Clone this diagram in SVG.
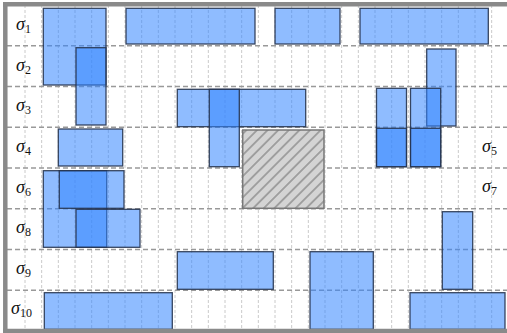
<svg xmlns="http://www.w3.org/2000/svg" width="507" height="333" viewBox="0 0 507 333">
<style>
.hl{stroke:#999;stroke-width:1.5;stroke-dasharray:5 3;fill:none}
.vl{stroke:#bdbdbd;stroke-width:0.8;stroke-dasharray:3 2;fill:none}
.fr{stroke:#8a8a8a;stroke-width:4.5;fill:none}
.b{fill:#3385ff;fill-opacity:0.55;stroke:#26344f;stroke-width:1.3;stroke-opacity:0.9}
.h{fill:url(#hatch);stroke:#777;stroke-width:1.5}
.lb{font-family:"Liberation Serif","DejaVu Serif",serif;font-style:italic;font-size:18px;fill:#111}
.sb{font-style:normal;font-size:12px}
</style>
<defs>
<pattern id="hatch" patternUnits="userSpaceOnUse" width="7.5" height="7.5" patternTransform="rotate(-45)">
<rect width="7.5" height="7.5" fill="#d4d4d4"/>
<line x1="0" y1="3.75" x2="7.5" y2="3.75" stroke="#777" stroke-width="1.1"/>
</pattern>
</defs>
<rect width="507" height="333" fill="#fff"/>
<g id="grid">
<path class="vl" d="M25 5V331M41.67 5V331M58.33 5V331M75 5V331M91.67 5V331M108.33 5V331M125 5V331M141.67 5V331M158.33 5V331M175 5V331M191.67 5V331M208.33 5V331M225 5V331M241.67 5V331M258.33 5V331M275 5V331M291.67 5V331M308.33 5V331M325 5V331M341.67 5V331M358.33 5V331M375 5V331M391.67 5V331M408.33 5V331M425 5V331M441.67 5V331M458.33 5V331M475 5V331M491.67 5V331"/>
<path class="hl" d="M7 45.75H507M7 86.5H507M7 127.25H507M7 168H507M7 208.75H507M7 249.5H507M7 290.25H507"/>
</g>
<g id="tasks">
<rect class="b" x="43.3" y="8.3" width="62.7" height="76.7"/>
<rect class="b" x="76" y="47.7" width="30" height="77.3"/>
<rect class="b" x="126" y="8.3" width="129" height="35.7"/>
<rect class="b" x="275" y="8.3" width="65" height="35.7"/>
<rect class="b" x="360" y="8.3" width="128.3" height="35.7"/>
<rect class="b" x="426.7" y="49" width="29.3" height="77"/>
<rect class="b" x="177.3" y="89.3" width="128.4" height="37.4"/>
<rect class="b" x="209.3" y="89.3" width="30" height="77.4"/>
<rect class="b" x="376.5" y="88.3" width="30" height="78.4"/>
<rect class="b" x="410.5" y="88.3" width="30.2" height="78.4"/>
<rect class="b" x="376.5" y="128.3" width="30" height="38.4"/>
<rect class="b" x="410.5" y="128.3" width="30.2" height="38.4"/>
<rect class="b" x="58.3" y="129" width="64.4" height="37"/>
<rect class="b" x="43.3" y="170.7" width="63.4" height="76.6"/>
<rect class="b" x="59.3" y="170.7" width="64.7" height="37.6"/>
<rect class="b" x="76" y="209.3" width="64" height="38"/>
<rect class="b" x="442.3" y="211.7" width="30.4" height="77.6"/>
<rect class="b" x="177.3" y="251.7" width="96" height="37.6"/>
<rect class="b" x="310" y="251.7" width="63.3" height="77.6"/>
<rect class="b" x="44.3" y="292.7" width="128" height="36.6"/>
<rect class="b" x="410" y="292.7" width="95" height="36.6"/>
</g>
<g id="blocked">
<rect class="h" x="242.7" y="130" width="81.3" height="78.3"/>
</g>
<g id="frame">
<path class="fr" d="M3 4.3H507M5.3 2V333M3 331H507"/>
</g>
<g id="labels">
<text class="lb" x="16" y="30">σ<tspan class="sb" dy="3">1</tspan></text>
<text class="lb" x="16" y="71">σ<tspan class="sb" dy="3">2</tspan></text>
<text class="lb" x="16" y="111">σ<tspan class="sb" dy="3">3</tspan></text>
<text class="lb" x="16" y="152">σ<tspan class="sb" dy="3">4</tspan></text>
<text class="lb" x="16" y="193">σ<tspan class="sb" dy="3">6</tspan></text>
<text class="lb" x="16" y="233">σ<tspan class="sb" dy="3">8</tspan></text>
<text class="lb" x="16" y="274">σ<tspan class="sb" dy="3">9</tspan></text>
<text class="lb" x="11" y="314">σ<tspan class="sb" dy="3">10</tspan></text>
<text class="lb" x="482" y="152">σ<tspan class="sb" dy="3">5</tspan></text>
<text class="lb" x="482" y="192">σ<tspan class="sb" dy="3">7</tspan></text>
</g>
</svg>
